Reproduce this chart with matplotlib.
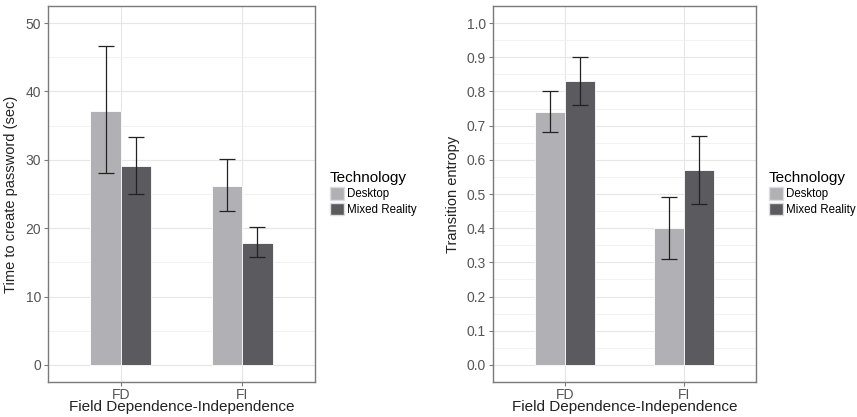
import matplotlib
matplotlib.use('Agg')
import matplotlib.pyplot as plt
from matplotlib.patches import Patch
import numpy as np

plt.rcParams['font.family'] = ['Liberation Sans', 'DejaVu Sans']

groups = ['FD', 'FI']
technologies = ['Desktop', 'Mixed Reality']
colors = ['#b1b1b5', '#5b5b5f']

time_desktop = [37.2, 26.2]
time_desktop_lo = [28.0, 22.5]
time_desktop_hi = [46.6, 30.1]
time_mr = [29.1, 17.8]
time_mr_lo = [25.0, 15.8]
time_mr_hi = [33.4, 20.1]

ent_desktop = [0.74, 0.40]
ent_desktop_lo = [0.68, 0.31]
ent_desktop_hi = [0.80, 0.49]
ent_mr = [0.83, 0.57]
ent_mr_lo = [0.76, 0.47]
ent_mr_hi = [0.90, 0.67]

W, H = 857, 417
fig = plt.figure(figsize=(W / 100, H / 100), dpi=100)


def panel(rect, series, ymax, major, minor, fmt, ylabel, legend_x):
    ax = fig.add_axes(rect)
    x = np.arange(1, len(groups) + 1)
    bw = 0.25
    for i, (vals, lo, hi) in enumerate(series):
        pos = x + (i - 0.5) * bw
        ax.bar(pos, vals, width=bw, color=colors[i], edgecolor='white',
               linewidth=0.6, zorder=2)
        vals = np.array(vals)
        err = [vals - np.array(lo), np.array(hi) - vals]
        ax.errorbar(pos, vals, yerr=err, fmt='none', ecolor='#222222',
                    elinewidth=0.9, capsize=6, capthick=0.9, zorder=3)
    ax.set_xlim(0.4, 2.6)
    ax.set_ylim(-0.05 * ymax, 1.05 * ymax)
    ax.set_xticks(x)
    ax.set_xticklabels(groups)
    ax.set_yticks(np.arange(0, ymax + major / 2, major))
    ax.set_yticks(np.arange(minor, ymax, major), minor=True)
    ax.yaxis.set_major_formatter(plt.FormatStrFormatter(fmt))
    ax.grid(True, which='major', color='#e6e6e6', linewidth=0.8, zorder=0)
    ax.grid(True, which='minor', axis='y', color='#f0f0f0', linewidth=0.6, zorder=0)
    ax.set_axisbelow(True)
    for s in ax.spines.values():
        s.set_color('#7a7a7a')
        s.set_linewidth(1.0)
    ax.tick_params(axis='both', which='major', colors='#7a7a7a', labelcolor='#555555',
                   labelsize=10, length=3, pad=2)
    ax.tick_params(axis='x', which='major', pad=1)
    ax.tick_params(axis='y', which='minor', length=0)
    ax.set_xlabel('Field Dependence-Independence', fontsize=11, color='#222222', labelpad=-1)
    ax.set_ylabel(ylabel, fontsize=10.5, color='#222222', labelpad=5)
    handles = [Patch(facecolor=c, edgecolor='#dddddd') for c in colors]
    leg = fig.legend(handles, technologies, title='Technology', loc='upper left',
                     bbox_to_anchor=(legend_x / W, 1 - 171 / H), frameon=False,
                     fontsize=8.3, title_fontsize=11, handlelength=1.2,
                     handleheight=1.3, handletextpad=0.3, labelspacing=0.2,
                     borderpad=0, borderaxespad=0)
    leg._legend_box.align = 'left'
    return ax


panel([48 / W, 35 / H, 267 / W, 376 / H],
      [(time_desktop, time_desktop_lo, time_desktop_hi),
       (time_mr, time_mr_lo, time_mr_hi)],
      50, 10, 5, '%d', 'Time to create password (sec)', 330)

panel([493 / W, 35 / H, 263 / W, 376 / H],
      [(ent_desktop, ent_desktop_lo, ent_desktop_hi),
       (ent_mr, ent_mr_lo, ent_mr_hi)],
      1.0, 0.1, 0.05, '%.1f', 'Transition entropy', 769)

fig.savefig('out.png', dpi=100)
